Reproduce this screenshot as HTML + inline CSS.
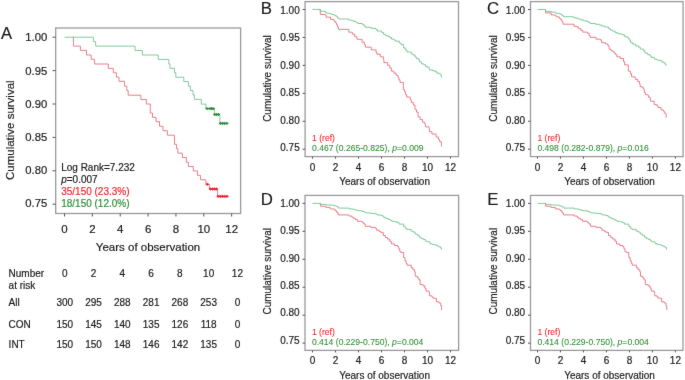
<!DOCTYPE html><html><head><meta charset="utf-8"><style>html,body{margin:0;padding:0;background:#fff;overflow:hidden;}svg{display:block;will-change:transform;}text{font-family:"Liberation Sans", sans-serif;}</style></head><body>
<svg width="685" height="380" viewBox="0 0 685 380">
<defs><filter id="bl" x="0" y="0" width="685" height="380" filterUnits="userSpaceOnUse" color-interpolation-filters="sRGB"><feConvolveMatrix order="3" kernelMatrix="0.01 0.05 0.01 0.05 0.76 0.05 0.01 0.05 0.01" edgeMode="duplicate"/></filter></defs><g filter="url(#bl)">
<rect width="685" height="380" fill="#fff"/>
<rect x="55.7" y="28" width="184.89999999999998" height="185.5" fill="none" stroke="#9a9a9a" stroke-width="1.3"/>
<line x1="52.5" y1="37.20" x2="55.7" y2="37.20" stroke="#555" stroke-width="1"/>
<text transform="translate(47.3,41.35) scale(1,1.02)" font-size="11.3" fill="#1a1a1a" stroke="#1a1a1a" stroke-width="0.18" text-anchor="end" >1.00</text>
<line x1="52.5" y1="70.60" x2="55.7" y2="70.60" stroke="#555" stroke-width="1"/>
<text transform="translate(47.3,74.55) scale(1,1.02)" font-size="11.3" fill="#1a1a1a" stroke="#1a1a1a" stroke-width="0.18" text-anchor="end" >0.95</text>
<line x1="52.5" y1="104.00" x2="55.7" y2="104.00" stroke="#555" stroke-width="1"/>
<text transform="translate(47.3,107.75) scale(1,1.02)" font-size="11.3" fill="#1a1a1a" stroke="#1a1a1a" stroke-width="0.18" text-anchor="end" >0.90</text>
<line x1="52.5" y1="137.40" x2="55.7" y2="137.40" stroke="#555" stroke-width="1"/>
<text transform="translate(47.3,140.95) scale(1,1.02)" font-size="11.3" fill="#1a1a1a" stroke="#1a1a1a" stroke-width="0.18" text-anchor="end" >0.85</text>
<line x1="52.5" y1="170.80" x2="55.7" y2="170.80" stroke="#555" stroke-width="1"/>
<text transform="translate(47.3,174.15) scale(1,1.02)" font-size="11.3" fill="#1a1a1a" stroke="#1a1a1a" stroke-width="0.18" text-anchor="end" >0.80</text>
<line x1="52.5" y1="204.20" x2="55.7" y2="204.20" stroke="#555" stroke-width="1"/>
<text transform="translate(47.3,207.35) scale(1,1.02)" font-size="11.3" fill="#1a1a1a" stroke="#1a1a1a" stroke-width="0.18" text-anchor="end" >0.75</text>
<line x1="64.50" y1="213.5" x2="64.50" y2="216.5" stroke="#555" stroke-width="1"/>
<text transform="translate(64.50,232.9) scale(1,1.02)" font-size="11.5" fill="#1a1a1a" stroke="#1a1a1a" stroke-width="0.18" text-anchor="middle" >0</text>
<line x1="92.36" y1="213.5" x2="92.36" y2="216.5" stroke="#555" stroke-width="1"/>
<text transform="translate(92.36,232.9) scale(1,1.02)" font-size="11.5" fill="#1a1a1a" stroke="#1a1a1a" stroke-width="0.18" text-anchor="middle" >2</text>
<line x1="120.22" y1="213.5" x2="120.22" y2="216.5" stroke="#555" stroke-width="1"/>
<text transform="translate(120.22,232.9) scale(1,1.02)" font-size="11.5" fill="#1a1a1a" stroke="#1a1a1a" stroke-width="0.18" text-anchor="middle" >4</text>
<line x1="148.08" y1="213.5" x2="148.08" y2="216.5" stroke="#555" stroke-width="1"/>
<text transform="translate(148.08,232.9) scale(1,1.02)" font-size="11.5" fill="#1a1a1a" stroke="#1a1a1a" stroke-width="0.18" text-anchor="middle" >6</text>
<line x1="175.94" y1="213.5" x2="175.94" y2="216.5" stroke="#555" stroke-width="1"/>
<text transform="translate(175.94,232.9) scale(1,1.02)" font-size="11.5" fill="#1a1a1a" stroke="#1a1a1a" stroke-width="0.18" text-anchor="middle" >8</text>
<line x1="203.80" y1="213.5" x2="203.80" y2="216.5" stroke="#555" stroke-width="1"/>
<text transform="translate(203.80,232.9) scale(1,1.02)" font-size="11.5" fill="#1a1a1a" stroke="#1a1a1a" stroke-width="0.18" text-anchor="middle" >10</text>
<line x1="231.66" y1="213.5" x2="231.66" y2="216.5" stroke="#555" stroke-width="1"/>
<text transform="translate(231.66,232.9) scale(1,1.02)" font-size="11.5" fill="#1a1a1a" stroke="#1a1a1a" stroke-width="0.18" text-anchor="middle" >12</text>
<text transform="translate(148,250.8) scale(1,1.02)" font-size="11.5" fill="#1a1a1a" stroke="#1a1a1a" stroke-width="0.18" text-anchor="middle" >Years of observation</text>
<text transform="translate(14.2,130.2) rotate(-90) scale(1,1.02)" font-size="11.5" fill="#1a1a1a" stroke="#1a1a1a" stroke-width="0.18" text-anchor="middle">Cumulative survival</text>
<text transform="translate(0.9,39.0) scale(1,1.02)" font-size="16.6" fill="#1a1a1a" stroke="#1a1a1a" stroke-width="0.18" text-anchor="start" >A</text>
<path d="M72.90 37.00 H73.40 V46.10 H80.40 V50.40 H86.50 V55.00 H91.10 V59.30 H94.60 V64.00 H108.30 V68.40 H113.30 V72.80 H116.40 V77.10 H119.00 V81.40 H124.50 V86.10 H126.80 V90.50 H128.20 V95.20 H140.90 V99.50 H146.30 V104.00 H150.30 V113.10 H152.50 V117.30 H156.00 V121.70 H159.50 V126.20 H163.00 V130.70 H167.40 V135.20 H174.50 V144.30 H176.50 V148.70 H177.90 V153.20 H182.40 V157.50 H186.30 V162.20 H188.40 V166.50 H193.30 V170.90 H197.60 V175.40 H200.50 V179.80 H205.90 V184.30 H209.40 V189.00 H217.60 V196.40 H228.20 V196.40" stroke="#e9707e" stroke-width="0.9" fill="none"/>
<path d="M64.50 37.20 H93.40 V41.60 H95.60 V46.10 H135.00 V50.50 H142.40 V55.00 H158.20 V59.40 H168.80 V63.90 H169.90 V68.30 H174.50 V72.70 H175.80 V77.20 H183.80 V81.60 H188.40 V86.10 H190.40 V90.50 H193.00 V95.00 H194.40 V99.40 H201.30 V104.10 H205.90 V108.60 H214.40 V114.50 H219.90 V123.40 H228.20 V123.40" stroke="#74c490" stroke-width="0.9" fill="none"/>
<path d="M205.80 184.3 H208.80" stroke="#e8202e" stroke-width="1.5" fill="none"/>
<path d="M207.30 182.80 V185.80" stroke="#e8202e" stroke-width="0.9" fill="none"/>
<path d="M208.90 189 H211.90" stroke="#e8202e" stroke-width="1.5" fill="none"/>
<path d="M210.40 187.50 V190.50" stroke="#e8202e" stroke-width="0.9" fill="none"/>
<path d="M211.00 189 H214.00" stroke="#e8202e" stroke-width="1.5" fill="none"/>
<path d="M212.50 187.50 V190.50" stroke="#e8202e" stroke-width="0.9" fill="none"/>
<path d="M213.10 189 H216.10" stroke="#e8202e" stroke-width="1.5" fill="none"/>
<path d="M214.60 187.50 V190.50" stroke="#e8202e" stroke-width="0.9" fill="none"/>
<path d="M214.90 189 H217.90" stroke="#e8202e" stroke-width="1.5" fill="none"/>
<path d="M216.40 187.50 V190.50" stroke="#e8202e" stroke-width="0.9" fill="none"/>
<path d="M216.70 196.4 H219.70" stroke="#e8202e" stroke-width="1.5" fill="none"/>
<path d="M218.20 194.90 V197.90" stroke="#e8202e" stroke-width="0.9" fill="none"/>
<path d="M218.90 196.4 H221.90" stroke="#e8202e" stroke-width="1.5" fill="none"/>
<path d="M220.40 194.90 V197.90" stroke="#e8202e" stroke-width="0.9" fill="none"/>
<path d="M221.10 196.4 H224.10" stroke="#e8202e" stroke-width="1.5" fill="none"/>
<path d="M222.60 194.90 V197.90" stroke="#e8202e" stroke-width="0.9" fill="none"/>
<path d="M223.30 196.4 H226.30" stroke="#e8202e" stroke-width="1.5" fill="none"/>
<path d="M224.80 194.90 V197.90" stroke="#e8202e" stroke-width="0.9" fill="none"/>
<path d="M225.40 196.4 H228.40" stroke="#e8202e" stroke-width="1.5" fill="none"/>
<path d="M226.90 194.90 V197.90" stroke="#e8202e" stroke-width="0.9" fill="none"/>
<path d="M205.60 108.6 H208.60" stroke="#2a8a3a" stroke-width="1.5" fill="none"/>
<path d="M207.10 107.10 V110.10" stroke="#2a8a3a" stroke-width="0.9" fill="none"/>
<path d="M208.40 108.6 H211.40" stroke="#2a8a3a" stroke-width="1.5" fill="none"/>
<path d="M209.90 107.10 V110.10" stroke="#2a8a3a" stroke-width="0.9" fill="none"/>
<path d="M210.10 108.6 H213.10" stroke="#2a8a3a" stroke-width="1.5" fill="none"/>
<path d="M211.60 107.10 V110.10" stroke="#2a8a3a" stroke-width="0.9" fill="none"/>
<path d="M211.70 108.6 H214.70" stroke="#2a8a3a" stroke-width="1.5" fill="none"/>
<path d="M213.20 107.10 V110.10" stroke="#2a8a3a" stroke-width="0.9" fill="none"/>
<path d="M213.30 114.5 H216.30" stroke="#2a8a3a" stroke-width="1.5" fill="none"/>
<path d="M214.80 113.00 V116.00" stroke="#2a8a3a" stroke-width="0.9" fill="none"/>
<path d="M215.10 114.5 H218.10" stroke="#2a8a3a" stroke-width="1.5" fill="none"/>
<path d="M216.60 113.00 V116.00" stroke="#2a8a3a" stroke-width="0.9" fill="none"/>
<path d="M217.00 114.5 H220.00" stroke="#2a8a3a" stroke-width="1.5" fill="none"/>
<path d="M218.50 113.00 V116.00" stroke="#2a8a3a" stroke-width="0.9" fill="none"/>
<path d="M218.90 123.4 H221.90" stroke="#2a8a3a" stroke-width="1.5" fill="none"/>
<path d="M220.40 121.90 V124.90" stroke="#2a8a3a" stroke-width="0.9" fill="none"/>
<path d="M221.00 123.4 H224.00" stroke="#2a8a3a" stroke-width="1.5" fill="none"/>
<path d="M222.50 121.90 V124.90" stroke="#2a8a3a" stroke-width="0.9" fill="none"/>
<path d="M223.10 123.4 H226.10" stroke="#2a8a3a" stroke-width="1.5" fill="none"/>
<path d="M224.60 121.90 V124.90" stroke="#2a8a3a" stroke-width="0.9" fill="none"/>
<path d="M225.30 123.4 H228.30" stroke="#2a8a3a" stroke-width="1.5" fill="none"/>
<path d="M226.80 121.90 V124.90" stroke="#2a8a3a" stroke-width="0.9" fill="none"/>
<text transform="translate(61.2,171.4) scale(1,1.02)" font-size="10" fill="#1a1a1a" stroke="#1a1a1a" stroke-width="0.18" text-anchor="start" >Log Rank=7.232</text>
<text transform="translate(61.2,183.4) scale(1,1.02)" font-size="10" fill="#1a1a1a" stroke="#1a1a1a" stroke-width="0.18" text-anchor="start" ><tspan font-style="italic">p</tspan>=0.007</text>
<text transform="translate(61.2,194.7) scale(1,1.02)" font-size="10" fill="#f0282c" stroke="#f0282c" stroke-width="0.18" text-anchor="start" >35/150 (23.3%)</text>
<text transform="translate(61.2,206.6) scale(1,1.02)" font-size="10" fill="#2e8e34" stroke="#2e8e34" stroke-width="0.18" text-anchor="start" >18/150 (12.0%)</text>
<text transform="translate(8.6,277) scale(1,1.02)" font-size="10" fill="#1a1a1a" stroke="#1a1a1a" stroke-width="0.18" text-anchor="start" >Number</text>
<text transform="translate(8.6,288.6) scale(1,1.02)" font-size="10" fill="#1a1a1a" stroke="#1a1a1a" stroke-width="0.18" text-anchor="start" >at risk</text>
<text transform="translate(64.80,277) scale(1,1.02)" font-size="10" fill="#1a1a1a" stroke="#1a1a1a" stroke-width="0.18" text-anchor="middle" >0</text>
<text transform="translate(93.57,277) scale(1,1.02)" font-size="10" fill="#1a1a1a" stroke="#1a1a1a" stroke-width="0.18" text-anchor="middle" >2</text>
<text transform="translate(122.34,277) scale(1,1.02)" font-size="10" fill="#1a1a1a" stroke="#1a1a1a" stroke-width="0.18" text-anchor="middle" >4</text>
<text transform="translate(151.11,277) scale(1,1.02)" font-size="10" fill="#1a1a1a" stroke="#1a1a1a" stroke-width="0.18" text-anchor="middle" >6</text>
<text transform="translate(179.88,277) scale(1,1.02)" font-size="10" fill="#1a1a1a" stroke="#1a1a1a" stroke-width="0.18" text-anchor="middle" >8</text>
<text transform="translate(208.65,277) scale(1,1.02)" font-size="10" fill="#1a1a1a" stroke="#1a1a1a" stroke-width="0.18" text-anchor="middle" >10</text>
<text transform="translate(237.42,277) scale(1,1.02)" font-size="10" fill="#1a1a1a" stroke="#1a1a1a" stroke-width="0.18" text-anchor="middle" >12</text>
<text transform="translate(8.6,306.1) scale(1,1.02)" font-size="10" fill="#1a1a1a" stroke="#1a1a1a" stroke-width="0.18" text-anchor="start" >All</text>
<text transform="translate(64.80,306.1) scale(1,1.02)" font-size="10" fill="#1a1a1a" stroke="#1a1a1a" stroke-width="0.18" text-anchor="middle" >300</text>
<text transform="translate(93.57,306.1) scale(1,1.02)" font-size="10" fill="#1a1a1a" stroke="#1a1a1a" stroke-width="0.18" text-anchor="middle" >295</text>
<text transform="translate(122.34,306.1) scale(1,1.02)" font-size="10" fill="#1a1a1a" stroke="#1a1a1a" stroke-width="0.18" text-anchor="middle" >288</text>
<text transform="translate(151.11,306.1) scale(1,1.02)" font-size="10" fill="#1a1a1a" stroke="#1a1a1a" stroke-width="0.18" text-anchor="middle" >281</text>
<text transform="translate(179.88,306.1) scale(1,1.02)" font-size="10" fill="#1a1a1a" stroke="#1a1a1a" stroke-width="0.18" text-anchor="middle" >268</text>
<text transform="translate(208.65,306.1) scale(1,1.02)" font-size="10" fill="#1a1a1a" stroke="#1a1a1a" stroke-width="0.18" text-anchor="middle" >253</text>
<text transform="translate(237.42,306.1) scale(1,1.02)" font-size="10" fill="#1a1a1a" stroke="#1a1a1a" stroke-width="0.18" text-anchor="middle" >0</text>
<text transform="translate(8.6,327.5) scale(1,1.02)" font-size="10" fill="#1a1a1a" stroke="#1a1a1a" stroke-width="0.18" text-anchor="start" >CON</text>
<text transform="translate(64.80,327.5) scale(1,1.02)" font-size="10" fill="#1a1a1a" stroke="#1a1a1a" stroke-width="0.18" text-anchor="middle" >150</text>
<text transform="translate(93.57,327.5) scale(1,1.02)" font-size="10" fill="#1a1a1a" stroke="#1a1a1a" stroke-width="0.18" text-anchor="middle" >145</text>
<text transform="translate(122.34,327.5) scale(1,1.02)" font-size="10" fill="#1a1a1a" stroke="#1a1a1a" stroke-width="0.18" text-anchor="middle" >140</text>
<text transform="translate(151.11,327.5) scale(1,1.02)" font-size="10" fill="#1a1a1a" stroke="#1a1a1a" stroke-width="0.18" text-anchor="middle" >135</text>
<text transform="translate(179.88,327.5) scale(1,1.02)" font-size="10" fill="#1a1a1a" stroke="#1a1a1a" stroke-width="0.18" text-anchor="middle" >126</text>
<text transform="translate(208.65,327.5) scale(1,1.02)" font-size="10" fill="#1a1a1a" stroke="#1a1a1a" stroke-width="0.18" text-anchor="middle" >118</text>
<text transform="translate(237.42,327.5) scale(1,1.02)" font-size="10" fill="#1a1a1a" stroke="#1a1a1a" stroke-width="0.18" text-anchor="middle" >0</text>
<text transform="translate(8.6,348.0) scale(1,1.02)" font-size="10" fill="#1a1a1a" stroke="#1a1a1a" stroke-width="0.18" text-anchor="start" >INT</text>
<text transform="translate(64.80,348.0) scale(1,1.02)" font-size="10" fill="#1a1a1a" stroke="#1a1a1a" stroke-width="0.18" text-anchor="middle" >150</text>
<text transform="translate(93.57,348.0) scale(1,1.02)" font-size="10" fill="#1a1a1a" stroke="#1a1a1a" stroke-width="0.18" text-anchor="middle" >150</text>
<text transform="translate(122.34,348.0) scale(1,1.02)" font-size="10" fill="#1a1a1a" stroke="#1a1a1a" stroke-width="0.18" text-anchor="middle" >148</text>
<text transform="translate(151.11,348.0) scale(1,1.02)" font-size="10" fill="#1a1a1a" stroke="#1a1a1a" stroke-width="0.18" text-anchor="middle" >146</text>
<text transform="translate(179.88,348.0) scale(1,1.02)" font-size="10" fill="#1a1a1a" stroke="#1a1a1a" stroke-width="0.18" text-anchor="middle" >142</text>
<text transform="translate(208.65,348.0) scale(1,1.02)" font-size="10" fill="#1a1a1a" stroke="#1a1a1a" stroke-width="0.18" text-anchor="middle" >135</text>
<text transform="translate(237.42,348.0) scale(1,1.02)" font-size="10" fill="#1a1a1a" stroke="#1a1a1a" stroke-width="0.18" text-anchor="middle" >0</text>
<rect x="305.1" y="1.6" width="153.39999999999998" height="155.0" fill="none" stroke="#9a9a9a" stroke-width="1.3"/>
<line x1="302.6" y1="9.50" x2="305.1" y2="9.50" stroke="#555" stroke-width="1"/>
<text transform="translate(299.70,14.00) scale(1,1.02)" font-size="10" fill="#1a1a1a" stroke="#1a1a1a" stroke-width="0.18" text-anchor="end" >1.00</text>
<line x1="302.6" y1="37.44" x2="305.1" y2="37.44" stroke="#555" stroke-width="1"/>
<text transform="translate(299.70,41.45) scale(1,1.02)" font-size="10" fill="#1a1a1a" stroke="#1a1a1a" stroke-width="0.18" text-anchor="end" >0.95</text>
<line x1="302.6" y1="65.38" x2="305.1" y2="65.38" stroke="#555" stroke-width="1"/>
<text transform="translate(299.70,68.90) scale(1,1.02)" font-size="10" fill="#1a1a1a" stroke="#1a1a1a" stroke-width="0.18" text-anchor="end" >0.90</text>
<line x1="302.6" y1="93.32" x2="305.1" y2="93.32" stroke="#555" stroke-width="1"/>
<text transform="translate(299.70,96.35) scale(1,1.02)" font-size="10" fill="#1a1a1a" stroke="#1a1a1a" stroke-width="0.18" text-anchor="end" >0.85</text>
<line x1="302.6" y1="121.26" x2="305.1" y2="121.26" stroke="#555" stroke-width="1"/>
<text transform="translate(299.70,123.80) scale(1,1.02)" font-size="10" fill="#1a1a1a" stroke="#1a1a1a" stroke-width="0.18" text-anchor="end" >0.80</text>
<line x1="302.6" y1="149.20" x2="305.1" y2="149.20" stroke="#555" stroke-width="1"/>
<text transform="translate(299.70,151.25) scale(1,1.02)" font-size="10" fill="#1a1a1a" stroke="#1a1a1a" stroke-width="0.18" text-anchor="end" >0.75</text>
<line x1="312.50" y1="156.6" x2="312.50" y2="158.6" stroke="#555" stroke-width="1"/>
<text transform="translate(312.50,171.20) scale(1,1.02)" font-size="10" fill="#1a1a1a" stroke="#1a1a1a" stroke-width="0.18" text-anchor="middle" >0</text>
<line x1="335.50" y1="156.6" x2="335.50" y2="158.6" stroke="#555" stroke-width="1"/>
<text transform="translate(335.50,171.20) scale(1,1.02)" font-size="10" fill="#1a1a1a" stroke="#1a1a1a" stroke-width="0.18" text-anchor="middle" >2</text>
<line x1="358.50" y1="156.6" x2="358.50" y2="158.6" stroke="#555" stroke-width="1"/>
<text transform="translate(358.50,171.20) scale(1,1.02)" font-size="10" fill="#1a1a1a" stroke="#1a1a1a" stroke-width="0.18" text-anchor="middle" >4</text>
<line x1="381.50" y1="156.6" x2="381.50" y2="158.6" stroke="#555" stroke-width="1"/>
<text transform="translate(381.50,171.20) scale(1,1.02)" font-size="10" fill="#1a1a1a" stroke="#1a1a1a" stroke-width="0.18" text-anchor="middle" >6</text>
<line x1="404.50" y1="156.6" x2="404.50" y2="158.6" stroke="#555" stroke-width="1"/>
<text transform="translate(404.50,171.20) scale(1,1.02)" font-size="10" fill="#1a1a1a" stroke="#1a1a1a" stroke-width="0.18" text-anchor="middle" >8</text>
<line x1="427.50" y1="156.6" x2="427.50" y2="158.6" stroke="#555" stroke-width="1"/>
<text transform="translate(427.50,171.20) scale(1,1.02)" font-size="10" fill="#1a1a1a" stroke="#1a1a1a" stroke-width="0.18" text-anchor="middle" >10</text>
<line x1="450.50" y1="156.6" x2="450.50" y2="158.6" stroke="#555" stroke-width="1"/>
<text transform="translate(450.50,171.20) scale(1,1.02)" font-size="10" fill="#1a1a1a" stroke="#1a1a1a" stroke-width="0.18" text-anchor="middle" >12</text>
<text transform="translate(384.60,185.10) scale(1,1.02)" font-size="10" fill="#1a1a1a" stroke="#1a1a1a" stroke-width="0.18" text-anchor="middle" >Years of observation</text>
<text transform="translate(270.90,78.55) rotate(-90) scale(1,1.02)" font-size="10" fill="#1a1a1a" stroke="#1a1a1a" stroke-width="0.18" text-anchor="middle">Cumulative survival</text>
<text transform="translate(260.7,14.4) scale(1,1.02)" font-size="16.8" fill="#1a1a1a" stroke="#1a1a1a" stroke-width="0.18" text-anchor="start" >B</text>
<path d="M319.80 9.50 H320.30 V14.50 H325.40 V15.30 H326.20 V17.20 H330.50 V19.50 H334.10 V21.20 H335.30 V22.80 H336.50 V24.70 H337.60 V27.10 H338.40 V29.40 H348.90 V32.20 H352.40 V34.20 H354.70 V36.80 H357.00 V39.30 H362.10 V42.30 H364.40 V44.80 H365.40 V47.20 H371.20 V49.90 H376.10 V52.10 H376.80 V54.20 H380.30 V56.80 H383.40 V59.50 H383.90 V62.60 H387.60 V65.30 H389.70 V67.90 H391.30 V71.10 H393.90 V73.20 H396.10 V75.30 H397.90 V77.30 H398.90 V79.80 H400.00 V82.40 H403.40 V89.70 H404.50 V91.80 H405.50 V94.50 H406.60 V97.10 H410.30 V99.70 H411.30 V102.60 H413.40 V105.00 H415.00 V109.50 H416.50 V112.10 H418.10 V116.80 H420.10 V119.50 H422.40 V122.20 H424.80 V124.00 H425.40 V126.90 H429.00 V128.70 H429.50 V131.70 H431.90 V134.00 H436.10 V137.00 H438.40 V139.40 H439.60 V141.70 H441.40 V146.50" stroke="#e9707e" stroke-width="0.9" fill="none"/>
<path d="M312.50 9.40 H320.30 V11.30 H325.40 V12.50 H326.60 V13.30 H330.10 V13.80 H331.70 V14.50 H333.70 V15.10 H335.30 V15.90 H336.90 V17.20 H338.00 V18.40 H339.20 V19.00 H348.50 V20.00 H351.50 V20.60 H353.50 V21.40 H356.00 V22.30 H357.50 V23.50 H362.50 V24.50 H364.00 V25.80 H365.30 V27.30 H371.30 V28.40 H376.00 V29.50 H377.30 V31.00 H381.50 V32.40 H383.60 V34.40 H385.60 V35.60 H388.00 V36.40 H389.60 V37.60 H391.50 V39.10 H393.80 V40.00 H395.50 V41.20 H399.30 V43.00 H401.00 V44.60 H403.60 V47.90 H405.40 V50.00 H406.90 V52.00 H411.30 V54.10 H413.30 V55.10 H415.10 V56.50 H416.10 V58.40 H418.40 V59.70 H419.70 V62.00 H421.60 V63.90 H423.90 V64.80 H425.70 V66.70 H428.00 V67.60 H429.40 V69.90 H432.60 V70.80 H435.40 V71.70 H436.80 V73.10 H439.10 V74.00 H440.90 V75.40 H441.40 V77.70" stroke="#74c490" stroke-width="0.9" fill="none"/>
<text transform="translate(312.00,141.10) scale(1,1.02)" font-size="8.6" fill="#f0282c" stroke="#f0282c" stroke-width="0.08" text-anchor="start" >1 (ref)</text>
<text transform="translate(312.00,151.10) scale(1,1.02)" font-size="8.6" fill="#2e8e34" stroke="#2e8e34" stroke-width="0.08" text-anchor="start" >0.467 (0.265-0.825), <tspan font-style="italic">p</tspan>=0.009</text>
<rect x="530.5" y="1.6" width="152.60000000000002" height="155.0" fill="none" stroke="#9a9a9a" stroke-width="1.3"/>
<line x1="528.0" y1="9.50" x2="530.5" y2="9.50" stroke="#555" stroke-width="1"/>
<text transform="translate(525.10,14.00) scale(1,1.02)" font-size="10" fill="#1a1a1a" stroke="#1a1a1a" stroke-width="0.18" text-anchor="end" >1.00</text>
<line x1="528.0" y1="37.44" x2="530.5" y2="37.44" stroke="#555" stroke-width="1"/>
<text transform="translate(525.10,41.45) scale(1,1.02)" font-size="10" fill="#1a1a1a" stroke="#1a1a1a" stroke-width="0.18" text-anchor="end" >0.95</text>
<line x1="528.0" y1="65.38" x2="530.5" y2="65.38" stroke="#555" stroke-width="1"/>
<text transform="translate(525.10,68.90) scale(1,1.02)" font-size="10" fill="#1a1a1a" stroke="#1a1a1a" stroke-width="0.18" text-anchor="end" >0.90</text>
<line x1="528.0" y1="93.32" x2="530.5" y2="93.32" stroke="#555" stroke-width="1"/>
<text transform="translate(525.10,96.35) scale(1,1.02)" font-size="10" fill="#1a1a1a" stroke="#1a1a1a" stroke-width="0.18" text-anchor="end" >0.85</text>
<line x1="528.0" y1="121.26" x2="530.5" y2="121.26" stroke="#555" stroke-width="1"/>
<text transform="translate(525.10,123.80) scale(1,1.02)" font-size="10" fill="#1a1a1a" stroke="#1a1a1a" stroke-width="0.18" text-anchor="end" >0.80</text>
<line x1="528.0" y1="149.20" x2="530.5" y2="149.20" stroke="#555" stroke-width="1"/>
<text transform="translate(525.10,151.25) scale(1,1.02)" font-size="10" fill="#1a1a1a" stroke="#1a1a1a" stroke-width="0.18" text-anchor="end" >0.75</text>
<line x1="537.50" y1="156.6" x2="537.50" y2="158.6" stroke="#555" stroke-width="1"/>
<text transform="translate(537.50,171.20) scale(1,1.02)" font-size="10" fill="#1a1a1a" stroke="#1a1a1a" stroke-width="0.18" text-anchor="middle" >0</text>
<line x1="560.48" y1="156.6" x2="560.48" y2="158.6" stroke="#555" stroke-width="1"/>
<text transform="translate(560.48,171.20) scale(1,1.02)" font-size="10" fill="#1a1a1a" stroke="#1a1a1a" stroke-width="0.18" text-anchor="middle" >2</text>
<line x1="583.46" y1="156.6" x2="583.46" y2="158.6" stroke="#555" stroke-width="1"/>
<text transform="translate(583.46,171.20) scale(1,1.02)" font-size="10" fill="#1a1a1a" stroke="#1a1a1a" stroke-width="0.18" text-anchor="middle" >4</text>
<line x1="606.44" y1="156.6" x2="606.44" y2="158.6" stroke="#555" stroke-width="1"/>
<text transform="translate(606.44,171.20) scale(1,1.02)" font-size="10" fill="#1a1a1a" stroke="#1a1a1a" stroke-width="0.18" text-anchor="middle" >6</text>
<line x1="629.42" y1="156.6" x2="629.42" y2="158.6" stroke="#555" stroke-width="1"/>
<text transform="translate(629.42,171.20) scale(1,1.02)" font-size="10" fill="#1a1a1a" stroke="#1a1a1a" stroke-width="0.18" text-anchor="middle" >8</text>
<line x1="652.40" y1="156.6" x2="652.40" y2="158.6" stroke="#555" stroke-width="1"/>
<text transform="translate(652.40,171.20) scale(1,1.02)" font-size="10" fill="#1a1a1a" stroke="#1a1a1a" stroke-width="0.18" text-anchor="middle" >10</text>
<line x1="675.38" y1="156.6" x2="675.38" y2="158.6" stroke="#555" stroke-width="1"/>
<text transform="translate(675.38,171.20) scale(1,1.02)" font-size="10" fill="#1a1a1a" stroke="#1a1a1a" stroke-width="0.18" text-anchor="middle" >12</text>
<text transform="translate(609.54,185.10) scale(1,1.02)" font-size="10" fill="#1a1a1a" stroke="#1a1a1a" stroke-width="0.18" text-anchor="middle" >Years of observation</text>
<text transform="translate(496.60,78.50) rotate(-90) scale(1,1.02)" font-size="10" fill="#1a1a1a" stroke="#1a1a1a" stroke-width="0.18" text-anchor="middle">Cumulative survival</text>
<text transform="translate(486.9,14.4) scale(1,1.02)" font-size="16.8" fill="#1a1a1a" stroke="#1a1a1a" stroke-width="0.18" text-anchor="start" >C</text>
<path d="M545.00 9.50 H545.50 V12.90 H551.10 V14.90 H555.10 V15.50 H556.10 V16.80 H559.00 V17.80 H560.00 V19.10 H561.30 V20.50 H562.30 V22.10 H563.10 V24.20 H574.00 V26.30 H577.20 V27.20 H578.60 V28.60 H580.90 V30.40 H582.70 V32.10 H587.30 V33.20 H589.20 V35.50 H590.10 V37.30 H596.10 V39.20 H600.40 V40.00 H601.60 V42.70 H605.50 V43.90 H607.80 V45.50 H608.80 V46.40 H609.20 V49.20 H611.00 V50.60 H612.70 V51.50 H614.10 V52.90 H615.30 V54.40 H616.80 V56.80 H620.30 V58.50 H623.50 V61.60 H624.60 V64.90 H628.30 V71.10 H630.40 V73.70 H631.50 V76.80 H634.80 V77.60 H635.70 V79.50 H637.80 V81.60 H639.50 V83.70 H640.10 V86.70 H642.20 V87.80 H643.80 V89.90 H644.40 V92.50 H645.40 V94.60 H647.50 V95.20 H648.50 V97.30 H650.10 V99.40 H650.60 V101.20 H654.10 V104.60 H657.00 V105.70 H658.00 V107.50 H661.00 V109.90 H663.30 V111.00 H664.30 V113.10 H665.90 V114.60 H666.20 V117.80" stroke="#e9707e" stroke-width="0.9" fill="none"/>
<path d="M537.50 9.50 H545.50 V11.40 H551.40 V12.20 H555.40 V13.00 H556.70 V13.40 H559.30 V13.90 H561.00 V14.50 H562.30 V15.50 H563.30 V16.70 H573.50 V17.70 H575.80 V18.30 H578.10 V18.90 H580.40 V19.80 H583.20 V20.80 H586.90 V21.50 H588.70 V22.60 H590.10 V23.50 H595.60 V24.30 H598.90 V24.90 H601.40 V26.10 H604.90 V27.10 H608.60 V28.70 H610.40 V30.20 H612.70 V31.20 H615.10 V32.60 H617.40 V33.50 H619.20 V34.00 H622.30 V34.60 H624.30 V36.30 H626.10 V37.20 H628.50 V37.70 H628.90 V40.00 H630.70 V42.70 H632.60 V44.10 H635.60 V45.80 H638.50 V47.20 H640.30 V49.10 H643.50 V50.30 H644.40 V51.80 H645.40 V53.20 H647.70 V54.60 H650.00 V56.00 H651.40 V57.40 H654.40 V59.20 H656.90 V60.10 H659.60 V60.60 H661.50 V62.00 H663.80 V62.90 H665.20 V64.30 H666.10 V65.60" stroke="#74c490" stroke-width="0.9" fill="none"/>
<text transform="translate(537.40,141.10) scale(1,1.02)" font-size="8.6" fill="#f0282c" stroke="#f0282c" stroke-width="0.08" text-anchor="start" >1 (ref)</text>
<text transform="translate(537.40,151.10) scale(1,1.02)" font-size="8.6" fill="#2e8e34" stroke="#2e8e34" stroke-width="0.08" text-anchor="start" >0.498 (0.282-0.879), <tspan font-style="italic">p</tspan>=0.016</text>
<rect x="305.0" y="195.4" width="153.60000000000002" height="154.99999999999997" fill="none" stroke="#9a9a9a" stroke-width="1.3"/>
<line x1="302.5" y1="203.40" x2="305.0" y2="203.40" stroke="#555" stroke-width="1"/>
<text transform="translate(299.60,206.65) scale(1,1.02)" font-size="10" fill="#1a1a1a" stroke="#1a1a1a" stroke-width="0.18" text-anchor="end" >1.00</text>
<line x1="302.5" y1="231.34" x2="305.0" y2="231.34" stroke="#555" stroke-width="1"/>
<text transform="translate(299.60,234.10) scale(1,1.02)" font-size="10" fill="#1a1a1a" stroke="#1a1a1a" stroke-width="0.18" text-anchor="end" >0.95</text>
<line x1="302.5" y1="259.28" x2="305.0" y2="259.28" stroke="#555" stroke-width="1"/>
<text transform="translate(299.60,261.55) scale(1,1.02)" font-size="10" fill="#1a1a1a" stroke="#1a1a1a" stroke-width="0.18" text-anchor="end" >0.90</text>
<line x1="302.5" y1="287.22" x2="305.0" y2="287.22" stroke="#555" stroke-width="1"/>
<text transform="translate(299.60,289.00) scale(1,1.02)" font-size="10" fill="#1a1a1a" stroke="#1a1a1a" stroke-width="0.18" text-anchor="end" >0.85</text>
<line x1="302.5" y1="315.16" x2="305.0" y2="315.16" stroke="#555" stroke-width="1"/>
<text transform="translate(299.60,316.45) scale(1,1.02)" font-size="10" fill="#1a1a1a" stroke="#1a1a1a" stroke-width="0.18" text-anchor="end" >0.80</text>
<line x1="302.5" y1="343.10" x2="305.0" y2="343.10" stroke="#555" stroke-width="1"/>
<text transform="translate(299.60,343.90) scale(1,1.02)" font-size="10" fill="#1a1a1a" stroke="#1a1a1a" stroke-width="0.18" text-anchor="end" >0.75</text>
<line x1="312.50" y1="350.4" x2="312.50" y2="352.4" stroke="#555" stroke-width="1"/>
<text transform="translate(312.50,364.10) scale(1,1.02)" font-size="10" fill="#1a1a1a" stroke="#1a1a1a" stroke-width="0.18" text-anchor="middle" >0</text>
<line x1="335.50" y1="350.4" x2="335.50" y2="352.4" stroke="#555" stroke-width="1"/>
<text transform="translate(335.50,364.10) scale(1,1.02)" font-size="10" fill="#1a1a1a" stroke="#1a1a1a" stroke-width="0.18" text-anchor="middle" >2</text>
<line x1="358.50" y1="350.4" x2="358.50" y2="352.4" stroke="#555" stroke-width="1"/>
<text transform="translate(358.50,364.10) scale(1,1.02)" font-size="10" fill="#1a1a1a" stroke="#1a1a1a" stroke-width="0.18" text-anchor="middle" >4</text>
<line x1="381.50" y1="350.4" x2="381.50" y2="352.4" stroke="#555" stroke-width="1"/>
<text transform="translate(381.50,364.10) scale(1,1.02)" font-size="10" fill="#1a1a1a" stroke="#1a1a1a" stroke-width="0.18" text-anchor="middle" >6</text>
<line x1="404.50" y1="350.4" x2="404.50" y2="352.4" stroke="#555" stroke-width="1"/>
<text transform="translate(404.50,364.10) scale(1,1.02)" font-size="10" fill="#1a1a1a" stroke="#1a1a1a" stroke-width="0.18" text-anchor="middle" >8</text>
<line x1="427.50" y1="350.4" x2="427.50" y2="352.4" stroke="#555" stroke-width="1"/>
<text transform="translate(427.50,364.10) scale(1,1.02)" font-size="10" fill="#1a1a1a" stroke="#1a1a1a" stroke-width="0.18" text-anchor="middle" >10</text>
<line x1="450.50" y1="350.4" x2="450.50" y2="352.4" stroke="#555" stroke-width="1"/>
<text transform="translate(450.50,364.10) scale(1,1.02)" font-size="10" fill="#1a1a1a" stroke="#1a1a1a" stroke-width="0.18" text-anchor="middle" >12</text>
<text transform="translate(384.60,378.90) scale(1,1.02)" font-size="10" fill="#1a1a1a" stroke="#1a1a1a" stroke-width="0.18" text-anchor="middle" >Years of observation</text>
<text transform="translate(270.90,271.25) rotate(-90) scale(1,1.02)" font-size="10" fill="#1a1a1a" stroke="#1a1a1a" stroke-width="0.18" text-anchor="middle">Cumulative survival</text>
<text transform="translate(260.7,204.6) scale(1,1.02)" font-size="16.8" fill="#1a1a1a" stroke="#1a1a1a" stroke-width="0.18" text-anchor="start" >D</text>
<path d="M319.90 203.40 H320.40 V206.20 H325.80 V207.40 H330.10 V208.90 H334.00 V209.50 H335.00 V210.50 H336.30 V211.80 H337.30 V213.10 H338.30 V214.90 H348.70 V216.00 H351.80 V217.20 H353.40 V218.40 H355.40 V219.60 H357.30 V221.30 H362.10 V222.30 H363.60 V223.90 H365.20 V226.30 H370.70 V227.40 H375.70 V228.60 H376.70 V230.30 H379.40 V231.50 H380.80 V232.40 H383.30 V235.60 H385.40 V237.50 H387.50 V239.00 H389.70 V241.30 H391.30 V243.90 H394.50 V245.50 H397.60 V246.60 H398.70 V248.70 H399.70 V251.30 H400.80 V252.40 H403.60 V257.60 H405.00 V260.80 H406.10 V263.40 H407.10 V265.20 H411.20 V267.80 H413.00 V269.80 H414.70 V272.10 H415.30 V276.30 H417.70 V278.10 H418.90 V279.80 H420.10 V284.60 H423.00 V285.80 H424.80 V288.10 H426.00 V291.10 H429.00 V292.30 H429.50 V295.80 H431.90 V297.00 H433.10 V298.20 H436.40 V301.80 H439.00 V303.00 H440.80 V305.90 H441.60 V310.10" stroke="#e9707e" stroke-width="0.9" fill="none"/>
<path d="M312.50 203.40 H320.40 V204.40 H326.10 V204.90 H330.10 V205.20 H334.30 V205.80 H336.00 V206.40 H337.60 V207.20 H338.60 V208.10 H349.00 V208.90 H352.60 V209.30 H354.60 V209.90 H356.90 V210.70 H361.70 V211.30 H364.00 V212.10 H365.60 V212.90 H370.30 V213.40 H375.30 V214.00 H377.10 V214.90 H380.30 V215.40 H382.60 V216.30 H384.00 V217.70 H386.30 V218.60 H388.60 V219.50 H390.40 V220.40 H391.80 V221.40 H395.00 V221.80 H397.30 V222.70 H399.20 V224.10 H403.60 V226.40 H405.20 V228.30 H406.80 V229.40 H411.00 V231.20 H413.30 V232.10 H415.10 V234.00 H417.40 V235.40 H419.30 V237.20 H421.10 V238.60 H423.40 V239.50 H425.30 V240.90 H426.70 V241.80 H429.90 V243.70 H432.20 V244.60 H435.00 V245.00 H436.80 V246.00 H439.10 V246.90 H440.50 V247.80 H441.40 V249.60" stroke="#74c490" stroke-width="0.9" fill="none"/>
<text transform="translate(311.90,334.90) scale(1,1.02)" font-size="8.6" fill="#f0282c" stroke="#f0282c" stroke-width="0.08" text-anchor="start" >1 (ref)</text>
<text transform="translate(311.90,344.90) scale(1,1.02)" font-size="8.6" fill="#2e8e34" stroke="#2e8e34" stroke-width="0.08" text-anchor="start" >0.414 (0.229-0.750), <tspan font-style="italic">p</tspan>=0.004</text>
<rect x="530.5" y="195.4" width="152.5" height="154.99999999999997" fill="none" stroke="#9a9a9a" stroke-width="1.3"/>
<line x1="528.0" y1="203.40" x2="530.5" y2="203.40" stroke="#555" stroke-width="1"/>
<text transform="translate(525.10,206.65) scale(1,1.02)" font-size="10" fill="#1a1a1a" stroke="#1a1a1a" stroke-width="0.18" text-anchor="end" >1.00</text>
<line x1="528.0" y1="231.34" x2="530.5" y2="231.34" stroke="#555" stroke-width="1"/>
<text transform="translate(525.10,234.10) scale(1,1.02)" font-size="10" fill="#1a1a1a" stroke="#1a1a1a" stroke-width="0.18" text-anchor="end" >0.95</text>
<line x1="528.0" y1="259.28" x2="530.5" y2="259.28" stroke="#555" stroke-width="1"/>
<text transform="translate(525.10,261.55) scale(1,1.02)" font-size="10" fill="#1a1a1a" stroke="#1a1a1a" stroke-width="0.18" text-anchor="end" >0.90</text>
<line x1="528.0" y1="287.22" x2="530.5" y2="287.22" stroke="#555" stroke-width="1"/>
<text transform="translate(525.10,289.00) scale(1,1.02)" font-size="10" fill="#1a1a1a" stroke="#1a1a1a" stroke-width="0.18" text-anchor="end" >0.85</text>
<line x1="528.0" y1="315.16" x2="530.5" y2="315.16" stroke="#555" stroke-width="1"/>
<text transform="translate(525.10,316.45) scale(1,1.02)" font-size="10" fill="#1a1a1a" stroke="#1a1a1a" stroke-width="0.18" text-anchor="end" >0.80</text>
<line x1="528.0" y1="343.10" x2="530.5" y2="343.10" stroke="#555" stroke-width="1"/>
<text transform="translate(525.10,343.90) scale(1,1.02)" font-size="10" fill="#1a1a1a" stroke="#1a1a1a" stroke-width="0.18" text-anchor="end" >0.75</text>
<line x1="537.50" y1="350.4" x2="537.50" y2="352.4" stroke="#555" stroke-width="1"/>
<text transform="translate(537.50,364.10) scale(1,1.02)" font-size="10" fill="#1a1a1a" stroke="#1a1a1a" stroke-width="0.18" text-anchor="middle" >0</text>
<line x1="560.48" y1="350.4" x2="560.48" y2="352.4" stroke="#555" stroke-width="1"/>
<text transform="translate(560.48,364.10) scale(1,1.02)" font-size="10" fill="#1a1a1a" stroke="#1a1a1a" stroke-width="0.18" text-anchor="middle" >2</text>
<line x1="583.46" y1="350.4" x2="583.46" y2="352.4" stroke="#555" stroke-width="1"/>
<text transform="translate(583.46,364.10) scale(1,1.02)" font-size="10" fill="#1a1a1a" stroke="#1a1a1a" stroke-width="0.18" text-anchor="middle" >4</text>
<line x1="606.44" y1="350.4" x2="606.44" y2="352.4" stroke="#555" stroke-width="1"/>
<text transform="translate(606.44,364.10) scale(1,1.02)" font-size="10" fill="#1a1a1a" stroke="#1a1a1a" stroke-width="0.18" text-anchor="middle" >6</text>
<line x1="629.42" y1="350.4" x2="629.42" y2="352.4" stroke="#555" stroke-width="1"/>
<text transform="translate(629.42,364.10) scale(1,1.02)" font-size="10" fill="#1a1a1a" stroke="#1a1a1a" stroke-width="0.18" text-anchor="middle" >8</text>
<line x1="652.40" y1="350.4" x2="652.40" y2="352.4" stroke="#555" stroke-width="1"/>
<text transform="translate(652.40,364.10) scale(1,1.02)" font-size="10" fill="#1a1a1a" stroke="#1a1a1a" stroke-width="0.18" text-anchor="middle" >10</text>
<line x1="675.38" y1="350.4" x2="675.38" y2="352.4" stroke="#555" stroke-width="1"/>
<text transform="translate(675.38,364.10) scale(1,1.02)" font-size="10" fill="#1a1a1a" stroke="#1a1a1a" stroke-width="0.18" text-anchor="middle" >12</text>
<text transform="translate(609.54,378.90) scale(1,1.02)" font-size="10" fill="#1a1a1a" stroke="#1a1a1a" stroke-width="0.18" text-anchor="middle" >Years of observation</text>
<text transform="translate(496.60,271.20) rotate(-90) scale(1,1.02)" font-size="10" fill="#1a1a1a" stroke="#1a1a1a" stroke-width="0.18" text-anchor="middle">Cumulative survival</text>
<text transform="translate(487.2,204.6) scale(1,1.02)" font-size="16.8" fill="#1a1a1a" stroke="#1a1a1a" stroke-width="0.18" text-anchor="start" >E</text>
<path d="M545.10 203.40 H545.60 V206.20 H551.00 V207.40 H555.30 V208.90 H559.20 V209.50 H560.20 V210.50 H561.50 V211.80 H562.50 V213.10 H563.50 V214.90 H573.90 V216.00 H577.00 V217.20 H578.60 V218.40 H580.60 V219.60 H582.50 V221.30 H587.30 V222.30 H588.80 V223.90 H590.40 V226.30 H595.90 V227.40 H600.90 V228.60 H601.90 V230.30 H604.60 V231.50 H606.00 V232.40 H608.50 V235.60 H610.60 V237.50 H612.70 V239.00 H614.90 V241.30 H616.50 V243.90 H619.70 V245.50 H622.80 V246.60 H623.90 V248.70 H624.90 V251.30 H626.00 V252.40 H628.80 V257.60 H630.20 V260.80 H631.30 V263.40 H632.30 V265.20 H636.40 V267.80 H638.20 V269.80 H639.90 V272.10 H640.50 V276.30 H642.90 V278.10 H644.10 V279.80 H645.30 V284.60 H648.20 V285.80 H650.00 V288.10 H651.20 V291.10 H654.20 V292.30 H654.70 V295.80 H657.10 V297.00 H658.30 V298.20 H661.60 V301.80 H664.20 V303.00 H666.00 V305.90 H666.80 V310.10" stroke="#e9707e" stroke-width="0.9" fill="none"/>
<path d="M537.70 203.40 H545.60 V204.40 H551.30 V204.90 H555.30 V205.20 H559.50 V205.80 H561.20 V206.40 H562.80 V207.20 H563.80 V208.10 H574.20 V208.90 H577.80 V209.30 H579.80 V209.90 H582.10 V210.70 H586.90 V211.30 H589.20 V212.10 H590.80 V212.90 H595.50 V213.40 H600.50 V214.00 H602.30 V214.90 H605.50 V215.40 H607.80 V216.30 H609.20 V217.70 H611.50 V218.60 H613.80 V219.50 H615.60 V220.40 H617.00 V221.40 H620.20 V221.80 H622.50 V222.70 H624.40 V224.10 H628.80 V226.40 H630.40 V228.30 H632.00 V229.40 H636.20 V231.20 H638.50 V232.10 H640.30 V234.00 H642.60 V235.40 H644.50 V237.20 H646.30 V238.60 H648.60 V239.50 H650.50 V240.90 H651.90 V241.80 H655.10 V243.70 H657.40 V244.60 H660.20 V245.00 H662.00 V246.00 H664.30 V246.90 H665.70 V247.80 H666.60 V249.60" stroke="#74c490" stroke-width="0.9" fill="none"/>
<text transform="translate(537.40,334.90) scale(1,1.02)" font-size="8.6" fill="#f0282c" stroke="#f0282c" stroke-width="0.08" text-anchor="start" >1 (ref)</text>
<text transform="translate(537.40,344.90) scale(1,1.02)" font-size="8.6" fill="#2e8e34" stroke="#2e8e34" stroke-width="0.08" text-anchor="start" >0.414 (0.229-0.750), <tspan font-style="italic">p</tspan>=0.004</text>
</g>
</svg></body></html>
